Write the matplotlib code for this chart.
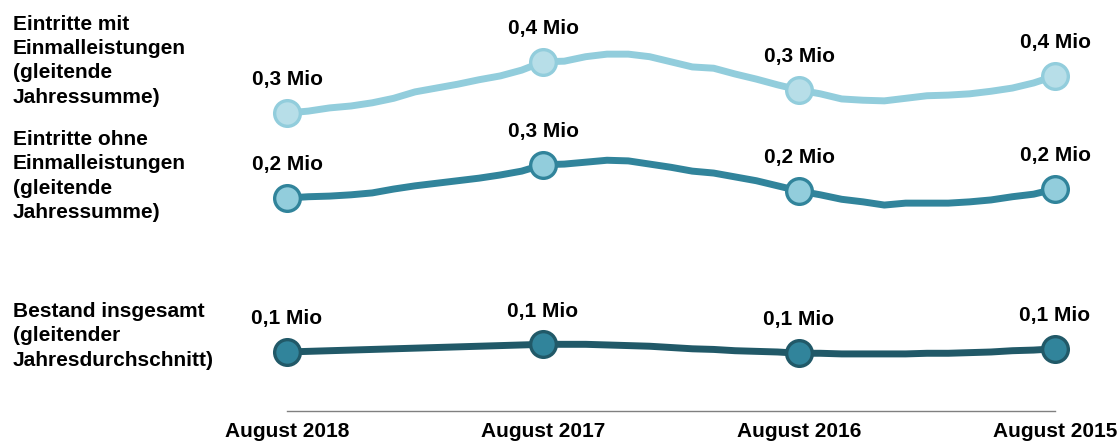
import numpy as np
import matplotlib
matplotlib.use("Agg")
import matplotlib.pyplot as plt

plt.rcParams['font.family'] = ['Liberation Sans', 'DejaVu Sans']

# monthly values in thousands, from August 2018 (left) back to August 2015 (right)
months = np.arange(37)
tick_pos = [0, 12, 24, 36]
tick_labels = ["August 2018", "August 2017", "August 2016", "August 2015"]

mit_einmal = [300, 303, 308, 311, 316, 323, 333, 339, 345, 352, 358, 367, 380,
              381, 388, 392, 392, 388, 380, 372, 370, 361, 353, 344, 336,
              330, 322, 320, 319, 323, 327, 328, 330, 334, 339, 347, 358]
ohne_einmal = [220, 222, 223, 225, 228, 234, 239, 243, 247, 251, 256, 262, 272,
               273, 276, 279, 278, 273, 268, 262, 259, 253, 247, 239, 231,
               225, 218, 214, 209, 212, 212, 212, 214, 217, 222, 226, 234]
bestand = [120, 121, 122, 123, 124, 125, 126, 127, 128, 129, 130, 131, 132,
           132, 132, 131, 130, 129, 127, 125, 124, 122, 121, 120, 118,
           118, 117, 117, 117, 117, 118, 118, 119, 120, 122, 123, 125]

names = ["Eintritte mit\nEinmalleistungen\n(gleitende\nJahressumme)",
         "Eintritte ohne\nEinmalleistungen\n(gleitende\nJahressumme)",
         "Bestand insgesamt\n(gleitender\nJahresdurchschnitt)"]

series = [mit_einmal, ohne_einmal, bestand]
line_colors = ["#92CDDC", "#31849B", "#215968"]
face_colors = ["#B7DEE8", "#92CDDC", "#31849B"]
ylims = [(-165.6, 476.6), (-112.8, 529.4), (27.8, 670.0)]
name_y = [15, 130, 302]

W, H = 1120, 444
fig = plt.figure(figsize=(W / 100, H / 100), dpi=100)
rect = [287 / W, 33 / H, 768 / W, 411 / H]

base = fig.add_axes(rect)
base.set_xlim(0, 36)
base.set_ylim(0, 1)
for s in ["top", "left", "right"]:
    base.spines[s].set_visible(False)
base.spines["bottom"].set_color("#808080")
base.spines["bottom"].set_linewidth(1)
base.set_yticks([])
base.set_xticks(tick_pos)
base.set_xticklabels(tick_labels, fontsize=15, fontweight="bold")
base.tick_params(axis="x", length=0, pad=8)
base.patch.set_alpha(0)

for vals, lc, fc, yl in zip(series, line_colors, face_colors, ylims):
    ax = fig.add_axes(rect)
    ax.set_xlim(0, 36)
    ax.set_ylim(*yl)
    ax.axis("off")
    ax.plot(months, vals, color=lc, lw=5, solid_joinstyle="round",
            solid_capstyle="round", clip_on=False)
    pts_x = tick_pos
    pts_y = [vals[i] for i in tick_pos]
    ax.plot(pts_x, pts_y, "o", ms=18.5, mfc=fc, mec=lc, mew=2.4, clip_on=False)
    for x, y in zip(pts_x, pts_y):
        lab = ("%.1f Mio" % (y / 1000)).replace(".", ",")
        ax.annotate(lab, (x, y), xytext=(0, 20), textcoords="offset points",
                    ha="center", va="baseline", fontsize=15, fontweight="bold",
                    annotation_clip=False)

for txt, y in zip(names, name_y):
    fig.text(13 / W, 1 - y / H, txt, ha="left", va="top", fontsize=15,
             fontweight="bold", linespacing=1.35)

fig.savefig("out.png", dpi=100)
